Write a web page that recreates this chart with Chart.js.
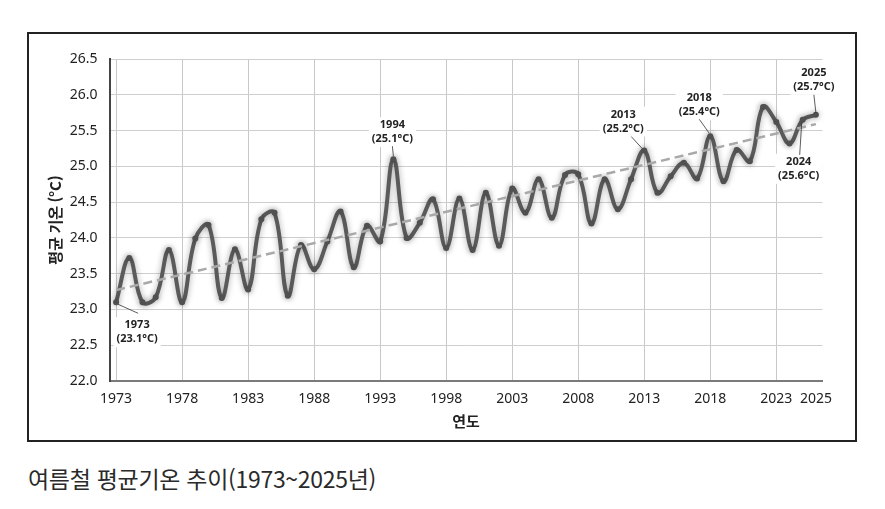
<!DOCTYPE html>
<html lang="ko">
<head>
<meta charset="utf-8">
<script src="https://cdn.jsdelivr.net/npm/chart.js@4.4.1/dist/chart.umd.min.js"></script>
<style>
  body { margin: 0; width: 885px; height: 509px; background: #fff; position: relative; font-family: "Noto Sans CJK KR", "Noto Sans", sans-serif; }
  #frame { position: absolute; left: 27px; top: 32px; width: 826px; height: 406px; border: 2px solid #222; }
  #caption { position: absolute; left: 28px; top: 465px; font-size: 23px; font-weight: 400; line-height: 26px; color: #2a2a2a; letter-spacing: -0.3px; }
</style>
</head>
<body>
<div id="frame"><canvas id="tempChart" width="826" height="406"></canvas></div>
<div id="caption">여름철 평균기온 추이(1973~2025년)</div>
<script>
// categories as they sit on the picture (54 points, one extra after 2022)
const years = [
  '1973','1974','1975','1976','1977','1978','1979','1980','1981','1982',
  '1983','1984','1985','1986','1987','1988','1989','1990','1991','1992',
  '1993','1994','1995','1996','1997','1998','1999','2000','2001','2002',
  '2003','2004','2005','2006','2007','2008','2009','2010','2011','2012',
  '2013','2014','2015','2016','2017','2018','2019','2020','2021','2022',
  '2023','2023','2024','2025'
];
const temps = [
  23.10, 23.72, 23.10, 23.17, 23.83, 23.10, 23.99, 24.18, 23.16, 23.84,
  23.28, 24.26, 24.35, 23.19, 23.90, 23.56, 23.95, 24.37, 23.59, 24.17,
  23.95, 25.10, 24.00, 24.21, 24.54, 23.86, 24.55, 23.83, 24.63, 23.89,
  24.69, 24.35, 24.82, 24.28, 24.88, 24.89, 24.20, 24.82, 24.40, 24.82,
  25.22, 24.63, 24.86, 25.05, 24.83, 25.42, 24.79, 25.23, 25.07, 25.83,
  25.62, 25.32, 25.65, 25.72
];
const tickYears = ['1973','1978','1983','1988','1993','1998','2003','2008','2013','2018','2023','2025'];
const gridYears = ['1973','1978','1983','1988','1993','1998','2003','2008','2013','2018','2023'];
const trendYears = ['1973', '2025'];
const trendTemps = [23.27, 25.59];

const callouts = [
  { year: '1973', lines: ['1973', '(23.1°C)'] },
  { year: '1994', lines: ['1994', '(25.1°C)'] },
  { year: '2013', lines: ['2013', '(25.2°C)'] },
  { year: '2018', lines: ['2018', '(25.4°C)'] },
  { year: '2024', lines: ['2024', '(25.6°C)'] },
  { year: '2025', lines: ['2025', '(25.7°C)'] }
];
// where each callout sits relative to its point: text centre, leader start/end
const calloutPlace = {
  '1973': { dx: 21, dy: 23, l: [2, 2, 22, 11] },
  '1994': { dx: -1, dy: -34, l: [0, -3, -1, -13] },
  '2013': { dx: -21, dy: -36, l: [-2, -2, -13, -14] },
  '2018': { dx: -11, dy: -38, l: [-1, -3, -11, -17] },
  '2024': { dx: -4, dy: 42, l: [-1, 3, -3, 35] },
  '2025': { dx: -2, dy: -42, l: [0, -2, -2, -20] }
};

const FONT = '"Noto Sans", "Noto Sans CJK KR", sans-serif';
const LABEL_FONT = 'bold 11px ' + FONT;

function calloutBoxes(chart) {
  const meta = chart.getDatasetMeta(1);
  const ctx = chart.ctx;
  ctx.font = LABEL_FONT;
  return callouts.map(c => {
    const pt = meta.data[years.indexOf(c.year)];
    const p = calloutPlace[c.year];
    const cx = pt.x + p.dx, cy = pt.y + p.dy;
    const w = Math.max(...c.lines.map(t => ctx.measureText(t).width)) + 6;
    return { c, pt, p, cx, cy, w };
  });
}

const glowPlugin = {
  id: 'glow',
  beforeDatasetDraw(chart, args) {
    if (args.index !== 1) return;
    const ctx = chart.ctx;
    ctx.save();
    ctx.shadowColor = 'rgba(0,0,0,0.35)';
    ctx.shadowBlur = 6;
  },
  afterDatasetDraw(chart, args) {
    if (args.index !== 1) return;
    chart.ctx.restore();
  }
};

const calloutPlugin = {
  id: 'callouts',
  beforeDatasetsDraw(chart) {
    const ctx = chart.ctx;
    ctx.save();
    ctx.fillStyle = '#fff';
    calloutBoxes(chart).forEach(b => {
      ctx.fillRect(b.cx - b.w / 2, b.cy - 8, b.w, 30);
    });
    ctx.restore();
  },
  afterDatasetsDraw(chart) {
    const ctx = chart.ctx;
    ctx.save();
    ctx.font = LABEL_FONT;
    ctx.fillStyle = '#222';
    ctx.textAlign = 'center';
    ctx.textBaseline = 'middle';
    ctx.strokeStyle = '#333';
    ctx.lineWidth = 0.8;
    calloutBoxes(chart).forEach(b => {
      b.c.lines.forEach((t, i) => ctx.fillText(t, b.cx, b.cy + i * 14));
      const l = b.p.l;
      ctx.beginPath();
      ctx.moveTo(b.pt.x + l[0], b.pt.y + l[1]);
      ctx.lineTo(b.pt.x + l[2], b.pt.y + l[3]);
      ctx.stroke();
    });
    ctx.restore();
  }
};

new Chart(document.getElementById('tempChart'), {
  type: 'line',
  data: {
    labels: years,
    datasets: [
      {
        label: '추세',
        data: trendYears.map((y, i) => ({ x: y, y: trendTemps[i] })),
        borderColor: '#a9a9a9',
        borderWidth: 2.5,
        borderDash: [9, 5],
        pointRadius: 0,
        tension: 0,
        fill: false
      },
      {
        label: '평균 기온',
        data: temps,
        borderColor: '#5a5a5a',
        borderWidth: 4,
        pointRadius: 3,
        pointBackgroundColor: '#505050',
        pointBorderColor: '#505050',
        pointBorderWidth: 0,
        tension: 0.4,
        fill: false
      }
    ]
  },
  options: {
    responsive: false,
    animation: false,
    layout: { padding: { left: 0, right: 32.5, top: 25, bottom: 0 } },
    plugins: {
      legend: { display: false },
      tooltip: { enabled: false }
    },
    scales: {
      x: {
        type: 'category',
        offset: true,
        afterFit: s => { s.height = 59; },
        grid: {
          offset: false,
          drawTicks: false,
          color: c => (c.tick && gridYears.includes(years[c.index]) && years.indexOf(years[c.index]) === c.index) ? '#c8c8c8' : 'rgba(0,0,0,0)',
          lineWidth: 1
        },
        border: { color: '#7a7a7a', width: 2 },
        ticks: {
          autoSkip: false,
          maxRotation: 0,
          padding: 10,
          color: '#222',
          font: { family: FONT, size: 14 },
          callback: (v, i) => (tickYears.includes(years[i]) && years.indexOf(years[i]) === i) ? years[i] : ''
        },
        title: {
          display: true,
          text: '연도',
          color: '#222',
          font: { family: '"Noto Sans CJK KR", sans-serif', size: 15, weight: 'bold' },
          padding: { top: 4, bottom: 10 }
        }
      },
      y: {
        min: 22,
        max: 26.5,
        afterFit: s => { s.width = 80.5; },
        grid: { color: '#cfcfcf', lineWidth: 1, drawTicks: false },
        border: { color: '#444', width: 2 },
        ticks: {
          stepSize: 0.5,
          padding: 12,
          color: '#222',
          font: { family: FONT, size: 14 },
          callback: v => v.toFixed(1)
        },
        title: {
          display: true,
          text: '평균 기온 (°C)',
          color: '#222',
          font: { family: '"Noto Sans CJK KR", sans-serif', size: 15, weight: 'bold' },
          padding: { top: 17, bottom: 4 }
        }
      }
    }
  },
  plugins: [glowPlugin, calloutPlugin]
});
</script>
</body>
</html>
